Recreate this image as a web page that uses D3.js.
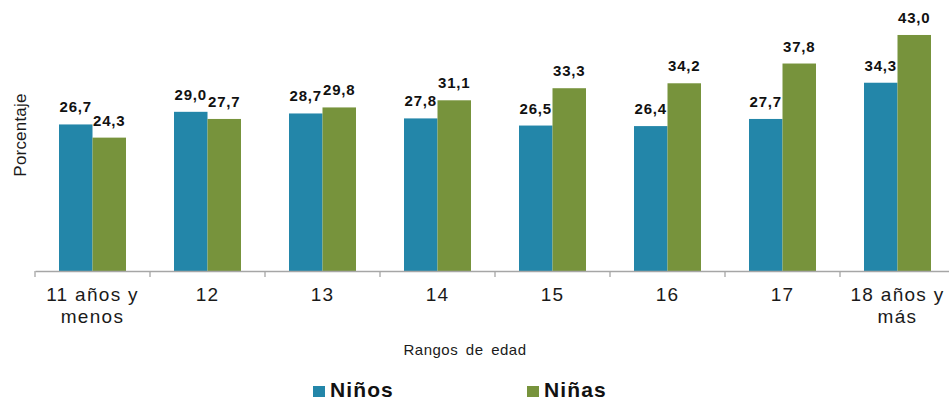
<!DOCTYPE html>
<html>
<head>
<meta charset="utf-8">
<script src="https://cdn.jsdelivr.net/npm/d3@7"></script>
<style>
  body { margin: 0; background: #fff; }
  svg { display: block; font-family: "Liberation Sans", Arial, sans-serif; }
</style>
</head>
<body>
<figure id="bar" style="margin:0"></figure>
<script>
const categorias = [["11 años y", "menos"], ["12"], ["13"], ["14"], ["15"], ["16"], ["17"], ["18 años y", "más"]];
const series = ["Niños", "Niñas"];
const ninos = [26.7, 29.0, 28.7, 27.8, 26.5, 26.4, 27.7, 34.3];
const ninas = [24.3, 27.7, 29.8, 31.1, 33.3, 34.2, 37.8, 43.0];
const colores = ["#2386a9", "#77933c"];

const width = 949, height = 400;
const svg = d3.select("figure#bar").append("svg")
  .attr("width", width)
  .attr("height", height);

const keys = categorias.map((c, i) => "c" + i);
const data = keys.map((k, i) => ({ key: k, valores: [ninos[i], ninas[i]] }));

// category scale
const x0 = d3.scaleBand().domain(keys).range([35, 955]).padding(0);
// series inside each category
const x1 = d3.scaleBand().domain(series).range([24, 91]).padding(0);
const y = d3.scaleLinear().domain([0, 45]).range([271, 24]);

const fmt = v => v.toFixed(1).replace(".", ",");

// bars
const grupos = svg.selectAll("g.grupo")
  .data(data)
  .enter().append("g")
  .attr("class", "grupo")
  .attr("transform", d => "translate(" + x0(d.key) + ",0)");

grupos.selectAll("rect")
  .data(d => d.valores.map((v, j) => ({ s: series[j], v: v, j: j })))
  .enter().append("rect")
  .attr("x", d => x1(d.s))
  .attr("y", d => y(d.v))
  .attr("width", x1.bandwidth())
  .attr("height", d => y(0) - y(d.v))
  .attr("fill", d => colores[d.j]);

grupos.selectAll("text.valor")
  .data(d => d.valores.map((v, j) => ({ s: series[j], v: v })))
  .enter().append("text")
  .attr("class", "valor")
  .attr("x", d => x1(d.s) + x1.bandwidth() / 2)
  .attr("y", d => y(d.v) - 12)
  .attr("text-anchor", "middle")
  .attr("font-size", 15)
  .attr("font-weight", "bold")
  .attr("letter-spacing", 0.8)
  .attr("fill", "#111")
  .text(d => fmt(d.v));

// x axis
const ejeX = svg.append("g")
  .attr("transform", "translate(0," + y(0) + ")")
  .call(d3.axisBottom(x0).tickSizeInner(0).tickSizeOuter(0).tickFormat(""));
ejeX.select(".domain").attr("stroke", "#a6a6a6").attr("stroke-width", 1.3);

// tick marks on category boundaries
svg.append("g").selectAll("line")
  .data(keys)
  .enter().append("line")
  .attr("x1", d => x0(d))
  .attr("x2", d => x0(d))
  .attr("y1", y(0))
  .attr("y2", y(0) + 6)
  .attr("stroke", "#a6a6a6")
  .attr("stroke-width", 1.3);

// category labels
const etiquetas = svg.append("g").selectAll("text")
  .data(categorias)
  .enter().append("text")
  .attr("x", (d, i) => x0(keys[i]) + x0.bandwidth() / 2)
  .attr("y", 301)
  .attr("text-anchor", "middle")
  .attr("font-size", 19)
  .attr("letter-spacing", 1.3)
  .attr("fill", "#1a1a1a");
etiquetas.each(function(d) {
  const t = d3.select(this);
  d.forEach((linea, k) => {
    t.append("tspan")
      .attr("x", t.attr("x"))
      .attr("dy", k === 0 ? 0 : 22)
      .text(linea);
  });
});

// axis titles
svg.append("text")
  .attr("x", 465)
  .attr("y", 355)
  .attr("text-anchor", "middle")
  .attr("font-size", 15)
  .attr("word-spacing", 3)
  .attr("letter-spacing", 0.5)
  .attr("fill", "#1a1a1a")
  .text("Rangos de edad");

svg.append("text")
  .attr("transform", "translate(26,135) rotate(-90)")
  .attr("text-anchor", "middle")
  .attr("font-size", 17)
  .attr("letter-spacing", 0.2)
  .attr("fill", "#1a1a1a")
  .text("Porcentaje");

// legend
const leyendaX = [313, 527];
const leyenda = svg.append("g").selectAll("g")
  .data(series)
  .enter().append("g")
  .attr("transform", (d, i) => "translate(" + leyendaX[i] + ",0)");
leyenda.append("rect")
  .attr("x", 0)
  .attr("y", 386)
  .attr("width", 12)
  .attr("height", 11)
  .attr("fill", (d, i) => colores[i]);
leyenda.append("text")
  .attr("x", 17)
  .attr("y", 397)
  .attr("font-size", 21)
  .attr("font-weight", "bold")
  .attr("letter-spacing", 1.1)
  .attr("fill", "#111")
  .text(d => d);
</script>
</body>
</html>
